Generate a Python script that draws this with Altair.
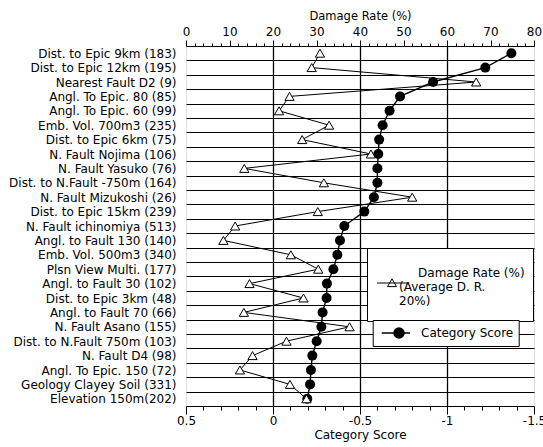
import altair as alt
import pandas as pd

categories = [
    "Dist. to Epic 9km (183)", "Dist. to Epic 12km (195)", "Nearest Fault D2 (9)",
    "Angl. To Epic. 80 (85)", "Angl. To Epic. 60 (99)", "Emb. Vol. 700m3 (235)",
    "Dist. to Epic 6km (75)", "N. Fault Nojima (106)", "N. Fault Yasuko (76)",
    "Dist. to N.Fault -750m (164)", "N. Fault Mizukoshi (26)", "Dist. to Epic 15km (239)",
    "N. Fault ichinomiya (513)", "Angl. to Fault 130 (140)", "Emb. Vol. 500m3 (340)",
    "Plsn View Multi. (177)", "Angl. to Fault 30 (102)", "Dist. to Epic 3km (48)",
    "Angl. to Fault 70 (66)", "N. Fault Asano (155)", "Dist. to N.Fault 750m (103)",
    "N. Fault D4 (98)", "Angl. To Epic. 150 (72)", "Geology Clayey Soil (331)",
    "Elevation 150m(202)",
]
category_score = [-1.37, -1.22, -0.92, -0.73, -0.67, -0.63, -0.61, -0.605, -0.60,
                  -0.60, -0.58, -0.525, -0.41, -0.385, -0.37, -0.347, -0.31, -0.308,
                  -0.285, -0.278, -0.251, -0.226, -0.218, -0.213, -0.197]
damage_rate = [30.8, 28.9, 66.7, 23.8, 21.4, 32.9, 26.7, 42.5, 13.4, 31.7, 52.0, 30.3,
               11.3, 8.6, 24.1, 30.4, 14.6, 27.0, 13.3, 37.6, 23.1, 15.3, 12.4, 23.9, 27.7]

score_ticks = [round(0.5 - 0.1 * i, 1) for i in range(21)]
rate_ticks = list(range(0, 81, 2))

ZW, NB = "\u200b", "\u00a0"
legend_rate_lines = ["", "", ZW + NB * 5 + "Damage Rate (%)" + NB * 2 + ZW,
                     "(Average D. R.", "20%)"]

df = pd.DataFrame({
    "category": categories,
    "score": category_score,
    "rate": damage_rate,
    "idx": list(range(len(categories))),
    "s1": "Damage Rate (%)",
    "s2": "Category Score",
})

FONT = "DejaVu Sans"

y_enc = alt.Y(
    "category:N", sort=categories,
    scale=alt.Scale(type="band", paddingInner=0, paddingOuter=0),
    axis=alt.Axis(title=None, ticks=False, domain=False, grid=True, tickBand="extent",
                  gridColor="black", gridWidth=1.1, gridOpacity=1,
                  labelFontSize=12, labelColor="black", labelPadding=10,
                  labelFont=FONT, labelLimit=300),
)

x_score = alt.X(
    "score:Q",
    scale=alt.Scale(domain=[-1.5, 0.5], reverse=True, nice=False, zero=False),
    axis=alt.Axis(
        orient="bottom", values=score_ticks, title="Category Score",
        grid=True, gridColor="black", gridWidth=1.3,
        gridOpacity={"condition": {"test": "abs(datum.value*2 - round(datum.value*2)) < 0.001 && abs(datum.value - 0.5) > 0.01 && abs(datum.value + 1.5) > 0.01", "value": 1}, "value": 0},
        tickSize={"condition": {"test": "abs(datum.value*2 - round(datum.value*2)) < 0.001", "value": 8}, "value": 4},
        labelExpr="abs(datum.value*2 - round(datum.value*2)) < 0.001 ? toString(round(datum.value*10)/10) : ''",
        domain=False, tickColor="black", tickWidth=1, labelColor="black", labelFontSize=12,
        labelFont=FONT, labelPadding=1, titleFont=FONT, titleFontSize=12,
        titleFontWeight="normal", titleColor="black", titlePadding=3, labelFlush=False,
        labelOverlap=False,
    ),
)

x_rate = alt.X(
    "rate:Q",
    scale=alt.Scale(domain=[0, 80], nice=False, zero=False),
    axis=alt.Axis(
        orient="top", values=rate_ticks, title="Damage Rate (%)", grid=False,
        tickSize={"condition": {"test": "datum.value % 10 == 0", "value": 6}, "value": 3},
        labelExpr="datum.value % 10 == 0 ? toString(datum.value) : ''",
        domain=False, tickColor="black", tickWidth=1, labelColor="black", labelFontSize=12,
        labelFont=FONT, labelPadding=2, titleFont=FONT, titleFontSize=11.5,
        titleFontWeight="normal", titleColor="black", titlePadding=4, labelFlush=False,
        labelOverlap=False,
    ),
)

# legend symbols: unit = sqrt(symbolSize)/2 pixels
tri_sym = "M-0.05,2.45H2.95M1.45,2.03L1.9,2.81L1.0,2.81Z"
dot_sym = "M-0.57,0H3.47M2.61,0A0.71,0.71 0 1,0 1.19,0A0.71,0.71 0 1,0 2.61,0Z"

label_expr = "[" + ", ".join("'" + s + "'" for s in legend_rate_lines) + "]"

dot_line = alt.Chart(df).mark_line(color="black", strokeWidth=1.4).encode(
    x=x_score, y=y_enc, order="idx:Q")
dot_pts = alt.Chart(df).mark_point(shape="circle", filled=True, size=100, opacity=1).encode(
    x=x_score, y=y_enc,
    fill=alt.Fill("s2:N", scale=alt.Scale(domain=["Category Score"], range=["black"]),
                  legend=alt.Legend(
                      title=None, orient="none", legendX=186.7, legendY=274,
                      fillColor="white", strokeColor="black", padding=5, zindex=5,
                      symbolType=dot_sym, symbolSize=196, symbolFillColor="black",
                      symbolStrokeColor="black", symbolStrokeWidth=1.5,
                      labelFont=FONT, labelFontSize=12, labelColor="black",
                      labelOffset=27.3)),
)

tri_line = alt.Chart(df).mark_line(color="black", strokeWidth=1).encode(
    x=x_rate, y=y_enc, order="idx:Q")
tri_pts = alt.Chart(df).mark_point(shape="triangle-up", filled=True, fill="white",
                                   strokeWidth=1, size=85, opacity=1).encode(
    x=x_rate, y=y_enc,
    stroke=alt.Stroke("s1:N", scale=alt.Scale(domain=["Damage Rate (%)"], range=["black"]),
                      legend=alt.Legend(
                          title=None, orient="none", legendX=181, legendY=202,
                          fillColor="white", strokeColor="black", padding=0, zindex=4,
                          symbolType=tri_sym, symbolSize=400, symbolFillColor="white",
                          symbolStrokeColor="black", symbolStrokeWidth=1,
                          labelFont=FONT, labelFontSize=12, labelColor="black",
                          labelOffset=11, labelExpr=label_expr)),
)

dots = alt.layer(dot_line, dot_pts)
tris = alt.layer(tri_line, tri_pts)

chart = alt.layer(dots, tris).resolve_scale(x="independent", fill="independent", stroke="independent").properties(
    width=348, height=360,
    autosize=alt.AutoSizeParams(type="none"),
    padding={"left": 186, "top": 46, "right": 9, "bottom": 41},
).configure_view(stroke="black", strokeWidth=1.5).configure(font=FONT)

chart.save("out.html", embed_options={"renderer": "svg", "actions": False})
